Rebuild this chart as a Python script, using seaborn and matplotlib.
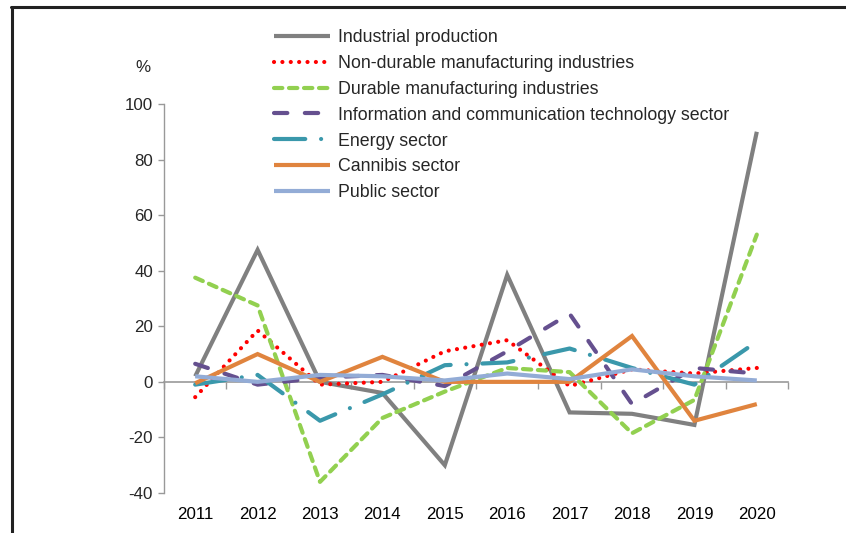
"""Annual growth by sector, 2011-2020, as a line chart."""
import matplotlib
matplotlib.use('Agg')
import matplotlib.pyplot as plt
from matplotlib.lines import Line2D
import seaborn as sns

years = [2011, 2012, 2013, 2014, 2015, 2016, 2017, 2018, 2019, 2020]

industrial = [2, 47.5, 0, -4, -30, 38.5, -11, -11.5, -15.5, 90]
non_durable = [-5.5, 18.5, -1, 0, 11, 15, -1.5, 4.5, 3, 5]
durable = [37.5, 27.5, -36, -13, -3.5, 5, 3.5, -18.5, -6.5, 53]
ict = [6.5, -1, 1.5, 2.5, -1.5, 11, 24.5, -8, 5, 3]
energy = [-1, 2.5, -14, -4.5, 6, 7, 12, 5, -1, 14.5]
cannabis = [-0.5, 10, 0, 9, 0, 0, 0, 16.5, -14, -8]
public = [2, 0, 2.5, 2, 0.5, 3, 1, 4.5, 2, 0.5]

labels = ['Industrial production', 'Non-durable manufacturing industries',
          'Durable manufacturing industries',
          'Information and communication technology sector',
          'Energy sector', 'Cannibis sector', 'Public sector']
series = [industrial, non_durable, durable, ict, energy, cannabis, public]
colors = ['#808080', '#ff0000', '#92d050', '#65508f', '#3a98ab', '#e0843e', '#93acd6']
styles = ['-', (0, (0.01, 2.0)), (0, (2.0, 1.6)), (0, (3.2, 4.2)),
          (0, (7.5, 3.8, 0.01, 3.8)), '-', '-']

sns.set_style('white')
plt.rcParams['font.family'] = ['Liberation Sans', 'DejaVu Sans']
plt.rcParams['axes.unicode_minus'] = False

fig = plt.figure(figsize=(8.46, 5.33), dpi=100)
ax = fig.add_axes([164 / 846, 1 - 493 / 533, 624 / 846, 389 / 533])

for vals, lab, col, ls in zip(series, labels, colors, styles):
    sns.lineplot(x=years, y=vals, ax=ax, color=col, linewidth=3.0,
                 linestyle=ls, label=lab, dash_capstyle='round',
                 solid_capstyle='butt', solid_joinstyle='miter')

ax.set_xlim(years[0] - 0.5, years[-1] + 0.5)
ax.set_ylim(-40, 100)
ax.set_yticks(range(-40, 101, 20))
ax.set_xticks(years)
ax.set_xticklabels([str(y) for y in years])
ax.tick_params(axis='x', length=0, pad=10, labelsize=12.2, colors='black')
ax.tick_params(axis='y', direction='out', length=4, width=1, color='#999999',
               pad=4, labelsize=12.2, left=True)

for s in ['top', 'right', 'bottom']:
    ax.spines[s].set_visible(False)
ax.spines['left'].set_color('#999999')
ax.spines['left'].set_linewidth(1)

# zero line with tick marks between categories
zx = ax.secondary_xaxis(40 / 140)
zx.set_xticks([y - 0.5 for y in years] + [years[-1] + 0.5])
zx.set_xticklabels([])
zx.tick_params(direction='out', length=5, width=1, color='#999999')
zx.spines['bottom'].set_color('#999999')
zx.spines['bottom'].set_linewidth(1.2)
ax.set_xlabel('')
ax.set_ylabel('')

fig.text(143 / 846, 1 - 68 / 533, '%', ha='center', va='center', fontsize=12.2)

leg = ax.legend(loc='upper left', bbox_to_anchor=(274 / 846, 1 - 29 / 533),
                bbox_transform=fig.transFigure, frameon=False, fontsize=12.8,
                handlelength=3.15, handletextpad=0.45, labelspacing=0.5,
                borderpad=0, borderaxespad=0)

# outer frame (top and left edges visible)
fig.add_artist(Line2D([12 / 846, 12 / 846], [0, 1 - 7 / 533],
                      transform=fig.transFigure, color='#222222', lw=2.2))
fig.add_artist(Line2D([11 / 846, 1], [1 - 7 / 533, 1 - 7 / 533],
                      transform=fig.transFigure, color='#222222', lw=2.2))

plt.savefig('out.png', dpi=100)
